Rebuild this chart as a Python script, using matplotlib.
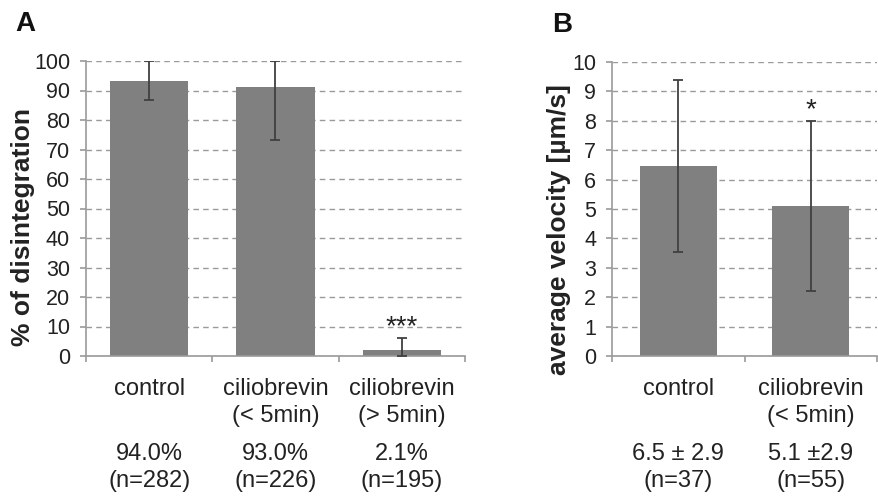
import matplotlib
matplotlib.use("Agg")
import matplotlib.pyplot as plt
import matplotlib.transforms as mtransforms

plt.rcParams['font.family'] = ['Liberation Sans', 'DejaVu Sans']

# ---- Data ----
cats_a = ["control", "ciliobrevin\n(< 5min)", "ciliobrevin\n(> 5min)"]
vals_a = [93.3, 91.2, 2.0]
err_low_a = [6.4, 17.9, 2.0]
err_high_a = [6.7, 8.8, 4.2]
stats_a = ["94.0%\n(n=282)", "93.0%\n(n=226)", "2.1%\n(n=195)"]
yticks_a = [0, 10, 20, 30, 40, 50, 60, 70, 80, 90, 100]

cats_b = ["control", "ciliobrevin\n(< 5min)"]
vals_b = [6.47, 5.11]
err_b = [2.93, 2.90]
stats_b = ["6.5 \u00b1 2.9\n(n=37)", "5.1 \u00b12.9\n(n=55)"]
yticks_b = [0, 1, 2, 3, 4, 5, 6, 7, 8, 9, 10]

W, H = 879, 497
fig = plt.figure(figsize=(W / 100, H / 100), dpi=100)

bar_color = '#808080'
err_color = '#404040'
grid_color = '#9a9a9a'
spine_color = '#9a9a9a'
text_color = '#222222'


def style_axes(ax, n, yticks):
    ax.set_xlim(0, n)
    ax.set_ylim(yticks[0], yticks[-1])
    ax.set_yticks(yticks)
    ax.set_xticks(range(n + 1))
    ax.set_xticklabels([])
    for s in ['top', 'right']:
        ax.spines[s].set_visible(False)
    for s in ['left', 'bottom']:
        ax.spines[s].set_color(spine_color)
        ax.spines[s].set_linewidth(1.2)
    ax.tick_params(axis='both', direction='out', length=4.5, width=1.2,
                   color=spine_color)
    ax.tick_params(axis='y', labelsize=15.5, pad=7, labelcolor=text_color)
    ax.yaxis.grid(True, linestyle=(0, (4, 3)), color=grid_color, lw=1)
    ax.set_axisbelow(True)


def add_labels(ax, n, cats, stats):
    tr = mtransforms.blended_transform_factory(ax.transData, ax.transAxes)
    for i in range(n):
        ax.text(i + 0.5, -0.075, cats[i], transform=tr, ha='center', va='top',
                fontsize=17, color=text_color, linespacing=1.3)
        ax.text(i + 0.5, -0.295, stats[i], transform=tr, ha='center', va='top',
                fontsize=17, color=text_color, linespacing=1.3)


# ---- Panel A ----
axA = fig.add_axes([86 / W, 1 - 356 / H, 379 / W, 295 / H])
xa = [i + 0.5 for i in range(len(vals_a))]
axA.bar(xa, vals_a, width=0.62, color=bar_color, zorder=2)
axA.errorbar(xa, vals_a, yerr=[err_low_a, err_high_a], fmt='none',
             ecolor=err_color, elinewidth=1.3, capsize=3.5, capthick=1.3, zorder=3)
style_axes(axA, len(vals_a), yticks_a)
add_labels(axA, len(vals_a), cats_a, stats_a)
fig.text(23 / W, 1 - 227 / H, "% of disintegration", fontsize=19,
         fontweight='bold', color=text_color, rotation=90,
         ha='center', va='center')
axA.text(2.5, vals_a[2] + err_high_a[2] - 0.8, "***", ha='center', va='bottom',
         fontsize=20, color=text_color)

# ---- Panel B ----
axB = fig.add_axes([612 / W, 1 - 356 / H, 265 / W, 294 / H])
xb = [i + 0.5 for i in range(len(vals_b))]
axB.bar(xb, vals_b, width=0.58, color=bar_color, zorder=2)
axB.errorbar(xb, vals_b, yerr=err_b, fmt='none', ecolor=err_color,
             elinewidth=1.3, capsize=3.5, capthick=1.3, zorder=3)
style_axes(axB, len(vals_b), yticks_b)
add_labels(axB, len(vals_b), cats_b, stats_b)
fig.text(559 / W, 1 - 230 / H, "average velocity [\u00b5m/s]", fontsize=19,
         fontweight='bold', color=text_color, rotation=90,
         ha='center', va='center')
axB.text(1.5, vals_b[1] + err_b[1] - 0.1, "*", ha='center', va='bottom',
         fontsize=20, color=text_color)

# Panel letters
fig.text(15 / W, 1 - 31 / H, "A", fontsize=20, fontweight='bold', ha='left',
         va='baseline', color='#111111')
fig.text(552 / W, 1 - 32 / H, "B", fontsize=20, fontweight='bold', ha='left',
         va='baseline', color='#111111')

fig.savefig("out.png", dpi=100, facecolor='white')
